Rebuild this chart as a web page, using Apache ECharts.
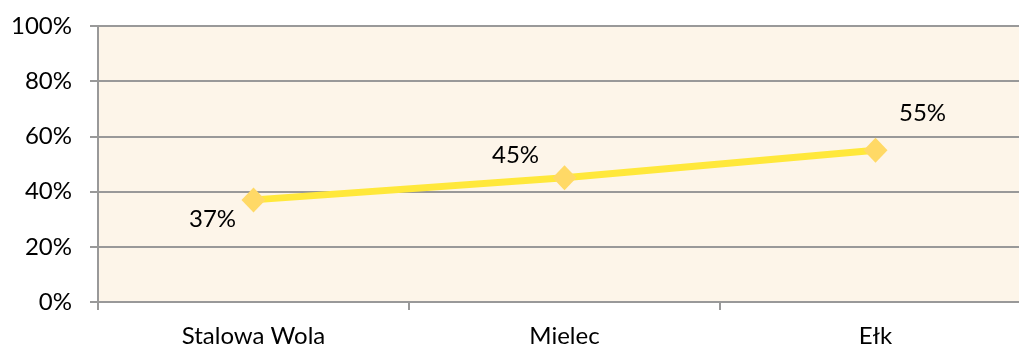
<!DOCTYPE html>
<html><head><meta charset="utf-8">
<script src="https://cdn.jsdelivr.net/npm/echarts@6/dist/echarts.min.js"></script>
<style>html,body{margin:0;padding:0;background:#fff;overflow:hidden;width:1019px;height:349px}#c{width:1031px;height:349px}</style>
</head><body><div id="c"></div>
<script>
const categories = ['Stalowa Wola', 'Mielec', 'Ełk'];
const values = [37, 45, 55];
const labelOffsets = [[-41, 19], [-49, -23], [47, -37]];
const yTicks = [0, 20, 40, 60, 80, 100];

const chart = echarts.init(document.getElementById('c'));
const font = 'Lato, "Open Sans", sans-serif';
chart.setOption({
  animation: false,
  grid: { left: 98, right: 0, top: 26, bottom: 47, show: true, backgroundColor: '#FDF5E9', borderWidth: 0 },
  xAxis: {
    type: 'category', data: categories, boundaryGap: true,
    axisLine: { lineStyle: { color: '#999', width: 2 } },
    axisTick: { show: true, length: 8, lineStyle: { color: '#999', width: 2 } },
    axisLabel: { color: '#000', fontSize: 24, fontFamily: font, margin: 22 }
  },
  yAxis: {
    type: 'value', min: yTicks[0], max: yTicks[yTicks.length - 1], interval: 20,
    axisLine: { show: true, lineStyle: { color: '#999', width: 2 } },
    axisTick: { show: true, length: 8, lineStyle: { color: '#999', width: 2 } },
    splitLine: { lineStyle: { color: '#999', width: 2 } },
    axisLabel: { color: '#000', fontSize: 24, fontFamily: font, margin: 26, formatter: v => v + '%' }
  },
  series: [{
    type: 'line',
    data: values.map((v, i) => ({ value: v, label: { offset: labelOffsets[i] } })),
    lineStyle: { color: '#FFE83B', width: 7 },
    itemStyle: { color: '#FFD966' },
    symbol: 'diamond', symbolSize: [24, 25],
    label: { show: true, position: 'inside', color: '#000', fontSize: 24, fontFamily: font, formatter: p => p.value + '%' }
  }]
});
</script></body></html>
